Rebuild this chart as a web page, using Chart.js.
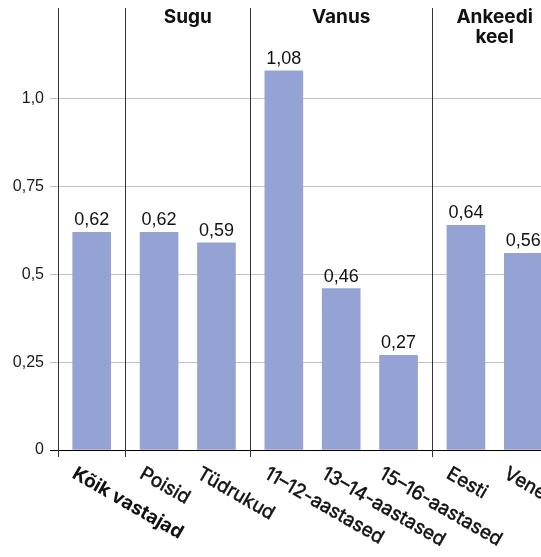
<!DOCTYPE html>
<html>
<head>
<meta charset="utf-8">
<script src="https://cdn.jsdelivr.net/npm/chart.js@4"></script>
<style>
  html, body { margin: 0; padding: 0; overflow: hidden; background: #fff; }
  canvas { display: block; }
</style>
</head>
<body>
<canvas id="chart" width="560" height="557"></canvas>
<script>
// Categories, their group membership and the mean values
const categories = ['Kõik vastajad', 'Poisid', 'Tüdrukud', '11–12-aastased', '13–14-aastased', '15–16-aastased', 'Eesti', 'Vene'];
const values = [0.62, 0.62, 0.59, 1.08, 0.46, 0.27, 0.64, 0.56];
const groupOf = [0, 1, 1, 2, 2, 2, 3, 3];
const groupTitles = [[], ['Sugu'], ['Vanus'], ['Ankeedi', 'keel']];
const yTicks = [0, 0.25, 0.5, 0.75, 1.0];
const yTickLabels = ['0', '0,25', '0,5', '0,75', '1,0'];

// Extra space (in category widths) between neighbouring groups
const GROUP_GAP = 0.175;
const positions = categories.map((_, i) => i + groupOf[i] * GROUP_GAP);
const xMin = positions[0] - 0.5 - GROUP_GAP / 2;
const xMax = positions[positions.length - 1] + 0.5 + GROUP_GAP / 2;

// Group boundaries: start of the axis plus the midpoint between groups
const boundaries = [xMin];
for (let i = 1; i < positions.length; i++) {
  if (groupOf[i] !== groupOf[i - 1]) boundaries.push((positions[i - 1] + positions[i]) / 2);
}
boundaries.push(xMax);

const fmt = v => v.toFixed(2).replace('.', ',');
const LABEL_FONT = '"Liberation Sans", Arial, sans-serif';
const CAT_FONT = 'Inter, "Open Sans", sans-serif';

const decorations = {
  id: 'decorations',
  beforeDatasetsDraw(chart) {
    const { ctx, chartArea, scales: { x } } = chart;
    ctx.save();
    ctx.strokeStyle = '#333';
    ctx.lineWidth = 1;
    boundaries.slice(0, -1).forEach(b => {
      const px = Math.round(x.getPixelForValue(b)) + 0.5;
      ctx.beginPath();
      ctx.moveTo(px, chartArea.top);
      ctx.lineTo(px, chartArea.bottom + 7);
      ctx.stroke();
    });
    ctx.restore();
  },
  afterDatasetsDraw(chart) {
    const { ctx, chartArea, scales: { x } } = chart;
    const meta = chart.getDatasetMeta(0);
    ctx.save();
    ctx.fillStyle = '#111';
    ctx.strokeStyle = '#111';

    // Value labels above the bars
    ctx.font = '18px ' + LABEL_FONT;
    ctx.textAlign = 'center';
    ctx.textBaseline = 'alphabetic';
    meta.data.forEach((bar, i) => {
      ctx.fillText(fmt(values[i]), bar.x, bar.y - 7);
    });

    // Group titles
    ctx.font = 'bold 19px ' + CAT_FONT;
    ctx.textBaseline = 'top';
    groupTitles.forEach((lines, g) => {
      if (!lines.length) return;
      const cx = (x.getPixelForValue(boundaries[g]) + x.getPixelForValue(boundaries[g + 1])) / 2;
      lines.forEach((t, k) => ctx.fillText(t, cx, chartArea.top + k * 20));
    });

    // Rotated category labels (first one in bold)
    ctx.textAlign = 'left';
    ctx.textBaseline = 'top';
    ctx.lineWidth = 0.5;
    meta.data.forEach((bar, i) => {
      ctx.save();
      ctx.translate(bar.x - 13, chartArea.bottom + 14);
      ctx.rotate(Math.PI / 6);
      ctx.font = (i === 0 ? 'bold ' : '') + '19px ' + CAT_FONT;
      ctx.fillText(categories[i], 0, 0);
      if (i !== 0) ctx.strokeText(categories[i], 0, 0);
      ctx.restore();
    });
    ctx.restore();
  }
};

new Chart(document.getElementById('chart'), {
  type: 'bar',
  data: {
    datasets: [{
      data: positions.map((p, i) => ({ x: p, y: values[i] })),
      backgroundColor: '#94a3d3',
      borderWidth: 0,
      barThickness: 38
    }]
  },
  options: {
    responsive: false,
    animation: false,
    layout: { padding: { top: 8, right: 3, bottom: 107, left: 0 } },
    plugins: { legend: { display: false }, tooltip: { enabled: false } },
    scales: {
      x: {
        type: 'linear',
        display: false,
        offset: false,
        min: xMin,
        max: xMax
      },
      y: {
        min: 0,
        max: 1.259,
        afterBuildTicks: s => { s.ticks = yTicks.map(v => ({ value: v })); },
        afterFit: s => { s.width = 58; },
        border: { display: false },
        grid: {
          color: c => (c.tick && c.tick.value === 0 ? '#000' : '#bfbfbf'),
          tickLength: 8,
          lineWidth: 1
        },
        ticks: {
          padding: 6,
          color: '#1a1a1a',
          font: { family: LABEL_FONT, size: 16, lineHeight: 0.2 },
          callback: (v, i) => yTickLabels[i]
        }
      }
    }
  },
  plugins: [decorations]
});
</script>
</body>
</html>
